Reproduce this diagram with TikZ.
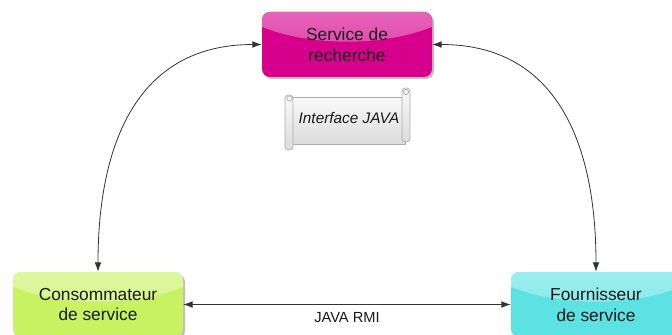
\documentclass[tikz,border=0pt]{standalone}
\usepackage{fontspec}
\setmainfont{Liberation Sans}
\usetikzlibrary{arrows.meta,shadows}
\definecolor{mag}{RGB}{214,0,140}
\definecolor{grn}{RGB}{200,242,98}
\definecolor{cyn}{RGB}{92,226,226}
\begin{document}
\begin{tikzpicture}[x=0.75pt,y=-0.75pt]
\tikzset{
  box/.style={rounded corners=6pt, minimum width=127.5pt, minimum height=48.75pt,
    align=center, font=\fontsize{13}{15.5}\selectfont, text=black!90, inner sep=0pt,
    drop shadow={shadow xshift=1.5pt,shadow yshift=-1.5pt,opacity=0.25,fill=black}},
  gloss/.style={path picture={\shade[top color=#1!40!white, bottom color=#1!80!white] ([yshift=15.75pt]path picture bounding box.north) ellipse (90pt and 38pt);}},
  link/.style={draw=black!80, line width=0.6pt, {Latex[length=7pt,width=5pt]}-{Latex[length=7pt,width=5pt]}},
  scrollpart/.style={draw=gray!65, line width=0.5pt, top color=gray!4, bottom color=gray!28}
}
\fill[white] (0,0) rectangle (672,335);
\useasboundingbox (0,0) rectangle (672,335);

\node[box, fill=mag, gloss=mag] (rech) at (347,44.5) {Service de\\recherche};
\node[box, fill=grn, gloss=grn] (cons) at (98,304.5) {Consommateur\\de service};
\node[box, fill=cyn, gloss=cyn] (four) at (596,304.5) {Fournisseur\\de service};

% scroll
\draw[scrollpart] (292,97) rectangle (405,144);
\draw[scrollpart, rounded corners=2.5pt] (285,95) rectangle (293,150);
\draw[scrollpart, rounded corners=2.5pt] (402,88) rectangle (410,142);
\draw[gray!65, line width=0.5pt, fill=gray!8] (289.5,98.5) circle (2.6);
\draw[gray!65, line width=0.5pt, fill=gray!8] (406,92) circle (2.6);
\node[font=\fontsize{11.5}{13}\selectfont\itshape, text=black!90] (iface) at (349,118) {Interface JAVA};

\draw[link, looseness=1.15] (rech.west) to[out=180,in=90] (cons.north);
\draw[link, looseness=1.15] (rech.east) to[out=0,in=90] (four.north);
\draw[link] (cons.east) -- (four.west)
  node[midway, below=2pt, font=\fontsize{11}{13}\selectfont, text=black!90] (rmi) {JAVA RMI};
\end{tikzpicture}
\end{document}
